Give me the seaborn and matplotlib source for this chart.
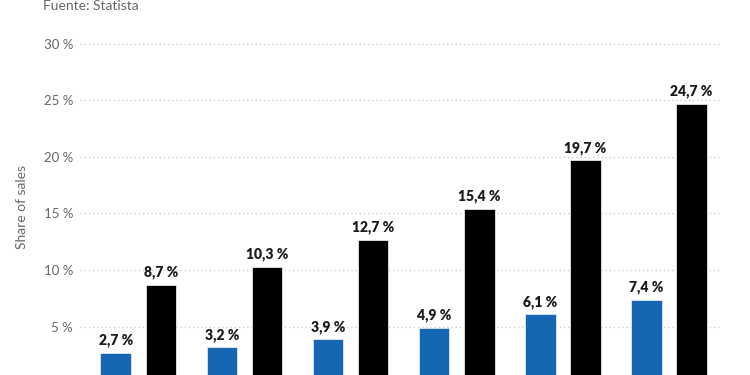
import numpy as np
import pandas as pd
import seaborn as sns
import matplotlib.pyplot as plt
import matplotlib as mpl

# values (x labels are cut off in the picture)
years = ["2019", "2020", "2021", "2022", "2023", "2024"]
serie_a = [2.7, 3.2, 3.9, 4.9, 6.1, 7.4]
serie_b = [8.7, 10.3, 12.7, 15.4, 19.7, 24.7]
series_names = ["Serie A", "Serie B"]
colores = ["#1667b3", "#000000"]
y_ticks = [5, 10, 15, 20, 25, 30]

df = pd.DataFrame({
    "year": years * 2,
    "share": serie_a + serie_b,
    "serie": [series_names[0]] * len(years) + [series_names[1]] * len(years),
})

sns.set_style("white")
plt.rcParams['font.family'] = ['Lato', 'DejaVu Sans']

fig = plt.figure(figsize=(7.5, 3.75), dpi=100)
# axes bottom sits a bit below the canvas, like the cropped reference
ax = fig.add_axes([80 / 750, -8.4 / 375, 642 / 750, 353.4 / 375])

g = sns.barplot(data=df, x="year", y="share", hue="serie", palette=colores,
                width=0.85, gap=0.32, saturation=1, edgecolor="#e6e6e6",
                linewidth=0.6, ax=ax, legend=False, zorder=3)

for cont in ax.containers:
    ax.bar_label(cont, labels=[f"{v:.1f} %".replace(".", ",") for v in cont.datavalues],
                 padding=4, fontsize=10, fontweight="heavy", color="#1a1a1a")

ax.set_xlim(-0.55, 5.5)
ax.set_ylim(0, 31.2)
ax.set_yticks(y_ticks)
ax.set_yticklabels([f"{t} %" for t in y_ticks], color="#666666", fontsize=9.5)
ax.set_xticklabels([])
ax.tick_params(axis="y", length=0, pad=5)
ax.tick_params(axis="x", length=0)
ax.yaxis.grid(True, linestyle=(0, (1, 2)), color="#cccccc", linewidth=1, zorder=0)
ax.set_axisbelow(True)
sns.despine(ax=ax, left=True, bottom=True)
ax.set_xlabel("")
ax.set_ylabel("Share of sales", color="#666666", fontsize=10, labelpad=11)

fig.text(43 / 750, 1.0, "Fuente: Statista", color="#666666", fontsize=10,
         va="top", ha="left")

plt.savefig("out.png", dpi=100)
